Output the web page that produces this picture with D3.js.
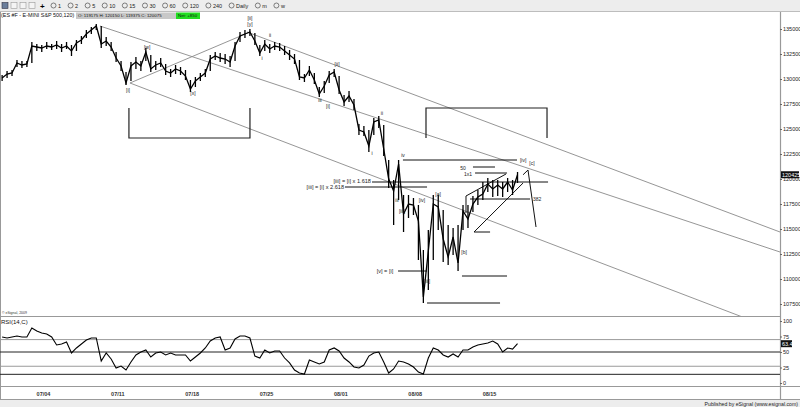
<!DOCTYPE html>
<html><head><meta charset="utf-8">
<script src="https://cdn.jsdelivr.net/npm/d3@7"></script>
<style>body{margin:0;background:#fff;overflow:hidden}svg{display:block;font-family:"Liberation Sans",Arial,sans-serif}</style>
</head><body><svg id="c" width="800" height="407"></svg>
<script>
// ---------------- DATA ----------------
const dateTicks = [0, 5, 10, 15, 20, 25, 30];            // trading days from 07/04
const dateLabels = ["07/04", "07/11", "07/18", "07/25", "08/01", "08/08", "08/15"];
const priceTicks = [107500, 110000, 112500, 115000, 117500, 120000, 122500, 125000, 127500, 130000, 132500, 135000];
const rsiTicks = [0, 25, 50, 75, 100];
const rsiLevels = [70, 50, 27, 14];
const startT = -2.75, stepT = 1 / 3;                     // one sample every 1/3 trading day
const closes = [130100,130500,130600,131600,131400,131500,133300,133200,133100,133300,
  133200,133400,133100,133300,132800,133600,133900,134500,134900,135300,
  133500,133800,133200,132100,131300,129600,131300,131700,131300,132700,
  131000,131400,131600,130800,130600,131000,130800,130300,129000,129800,
  130200,130600,132000,132300,132100,132000,131700,133300,134300,134500,
  134700,133800,132600,133500,133000,133300,133200,132800,132400,132000,
  130200,130100,130900,129900,128500,129300,130400,130700,128900,127700,
  128300,127400,124900,124700,123300,125700,125900,123000,120000,118800,
  121500,116500,117500,117400,115800,108200,112800,117500,117200,114000,
  112200,114200,111600,116800,116000,117500,118200,118500,119500,119000,
  119400,119000,119700,118900,120425];
const highs = [130400,130800,130900,131900,131800,131800,133700,133500,133400,133700,
  133500,133800,133500,133700,133400,133900,134300,134900,135200,135500,
  135300,134200,133700,132700,131800,130700,131700,132200,131800,133100,
  132400,131800,132100,131500,131000,131400,131200,130900,129900,130200,
  130600,131000,132400,132700,132600,132500,132300,133700,134700,134900,
  135000,134600,133400,133900,133500,133700,133600,133300,132900,132500,
  131900,130500,131300,130600,129200,129800,130800,131000,130300,128400,
  128800,128000,125500,125300,124900,126100,126300,125400,121900,119900,
  121900,118400,118400,118100,117400,112900,114900,118400,118400,116900,
  115400,115100,115400,117400,117400,118300,118900,119700,120100,119900,
  119900,119700,120100,119900,120700];
const lows = [129800,130100,130300,131200,131100,131200,131600,132800,132700,133000,
  132900,133000,132700,133000,132300,132800,133500,134100,134500,134900,
  133100,133300,132800,131700,130800,129400,129800,131000,130800,131800,
  130700,130900,131200,130400,130200,130500,130400,129900,128700,129200,
  129800,130200,130800,131900,131700,131500,131200,131800,133700,134100,
  134300,133400,132300,132800,132600,132900,132800,132400,131900,131500,
  129900,129700,130300,129500,128200,128600,129600,130200,128500,127300,
  127700,126900,124400,124300,122700,124400,125100,122300,119100,115400,
  117900,114700,116100,116400,111900,107600,108900,111900,114900,111700,
  111400,112400,110800,114900,115100,116700,117400,117900,118700,118200,
  118300,118200,118700,118400,119600];
const rsi = [74.2,72.6,74.2,75.8,74.2,74.2,88.7,83.9,80.6,79.0,
  74.2,61.3,62.9,66.1,48.4,56.5,62.9,69.4,72.6,72.6,
  35.5,48.4,38.7,24.2,27.4,21.0,33.9,45.2,50.0,53.2,
  41.9,48.4,50.0,45.2,48.4,45.2,45.2,45.2,35.5,41.9,
  48.4,56.5,67.7,72.6,74.2,53.2,56.5,71.0,75.8,75.8,
  72.6,43.5,40.3,53.2,48.4,51.6,51.6,40.3,32.3,21.0,
  16.1,14.5,37.1,33.9,30.6,33.9,53.2,56.5,51.6,40.3,
  33.9,25.8,24.2,29.0,43.5,48.4,50.0,33.9,16.1,22.6,
  35.5,33.9,30.6,25.8,17.7,14.5,40.3,56.5,53.2,45.2,
  41.9,46.8,41.9,53.2,53.2,58.1,61.3,62.9,64.5,67.7,
  62.9,50.0,56.5,54.8,63.4];
// annotation geometry in (trading day, price)
const channelLines = [
  [[3.83, 135300], [49.57, 112700]],
  [[13.72, 134700], [49.57, 114700]],
  [[5.85, 129600], [47.22, 106100]],
  [[5.85, 129600], [13.92, 134700]]
];
const brackets = [  // t1, t2, open-end price, bar price
  [5.78, 13.92, 127100, 124100],
  [25.76, 33.90, 124100, 127100]
];
const levelLines = [ // t1, t2, price
  [20.31, 25.83, 119200], [22.13, 33.97, 119700], [24.21, 31.88, 121900],
  [28.92, 30.40, 121200], [29.06, 31.21, 120600], [28.72, 32.76, 118000],
  [28.18, 31.21, 110300], [25.83, 30.74, 107600], [23.88, 25.83, 110800]
];
const wedgeLines = [
  [[28.45, 118300], [31.14, 120500]],
  [[28.45, 118300], [28.45, 116600]],
  [[28.99, 114700], [32.29, 119600]],
  [[28.99, 114700], [30.07, 114700]],
  [[32.29, 120425], [32.62, 120900], [33.16, 115200]]
];
const waveLabels = [ // t, price, text, anchor
  [13.92, 136100, "[ii]", "middle"], [13.92, 135500, "[y]", "middle"],
  [7.00, 133200, "[w]", "middle"], [5.72, 128900, "[i]", "middle"],
  [10.09, 128600, "[x]", "middle"], [14.73, 132100, "i", "middle"],
  [15.27, 134400, "ii", "middle"], [18.63, 127900, "iii", "middle"],
  [19.17, 127300, "[i]", "middle"], [19.78, 131500, "[ii]", "middle"],
  [22.13, 122600, "i", "middle"], [22.80, 126600, "ii", "middle"],
  [24.21, 122400, "iv", "middle"], [23.81, 117900, "iii", "middle"],
  [24.15, 116800, "[iii]", "middle"], [25.49, 117900, "[iv]", "middle"],
  [26.57, 118500, "[a]", "middle"], [28.32, 112700, "[b]", "middle"],
  [25.83, 109800, "[iii]", "middle"], [32.29, 121900, "[iv]", "middle"],
  [32.89, 121600, "[c]", "middle"], [28.25, 121100, "50", "middle"],
  [28.59, 120500, "1x1", "middle"], [33.23, 118000, "382", "middle"],
  [23.0, 110800, "[v] = [i]", "middle"],
  [22.06, 119850, "[iii] = [i] x 1.618", "end"],
  [20.25, 119250, "[iii] = [i] x 2.618", "end"]
];
const toolbarItems = ["1", "2", "5", "10", "15", "30", "60", "120", "240", "Daily", "m", "w"];

// ---------------- DRAW ----------------
const svg = d3.select("#c");
const W = 800, AX = 780;
const x = d3.scaleLinear().domain([-2.892, 49.57]).range([0, AX]);
const y = d3.scaleLinear().domain([107500, 135000]).range([304, 29]);
const yR = d3.scaleLinear().domain([0, 100]).range([383, 321]);

// toolbar
svg.append("rect").attr("x", 0).attr("y", 0).attr("width", W).attr("height", 11).attr("fill", "#ededed");
svg.append("line").attr("x1", 0).attr("x2", W).attr("y1", 11.5).attr("y2", 11.5).attr("stroke", "#bdbdbd");
const icons = svg.append("g");
[2, 11, 20, 29].forEach((ix, k) => {
  icons.append("rect").attr("x", ix).attr("y", 2.5).attr("width", 6).attr("height", 6)
    .attr("fill", k === 0 ? "#6a7d9a" : "#f4f4f4").attr("stroke", k === 0 ? "#334" : "#999").attr("stroke-width", 0.6);
});
icons.append("text").attr("x", 40).attr("y", 9).attr("font-size", 8).attr("font-weight", "bold").text("+");
let tx = 51;
toolbarItems.forEach(s => {
  svg.append("circle").attr("cx", tx + 2.5).attr("cy", 5.5).attr("r", 2.5).attr("fill", "none").attr("stroke", "#333").attr("stroke-width", 0.6);
  const t = svg.append("text").attr("x", tx + 7).attr("y", 8).attr("font-size", 5.5).attr("fill", "#222").text(s);
  tx += 7 + t.node().getComputedTextLength() + 7;
});

// header
svg.append("text").attr("x", 1).attr("y", 17).attr("font-size", 5.4).attr("fill", "#111").text("(ES #F - E-MINI S&P 500,120)");
svg.append("rect").attr("x", 76).attr("y", 12.5).attr("width", 100).attr("height", 6.5).attr("fill", "#c8c8c8");
svg.append("text").attr("x", 78).attr("y", 17.3).attr("font-size", 4.4).attr("fill", "#111")
  .text("O: 119175   H: 120150   L: 119375   C: 120075");
svg.append("rect").attr("x", 176).attr("y", 12.5).attr("width", 24).attr("height", 6.5).attr("fill", "#22dd22");
svg.append("text").attr("x", 178).attr("y", 17.3).attr("font-size", 4.4).attr("fill", "#111").text("Net: +850");

// frame lines
svg.append("line").attr("x1", 0.5).attr("x2", 0.5).attr("y1", 12).attr("y2", 400).attr("stroke", "#999");
svg.append("line").attr("x1", AX + 0.5).attr("x2", AX + 0.5).attr("y1", 12).attr("y2", 400).attr("stroke", "#999").attr("stroke-width", 1.2);
svg.append("line").attr("x1", 0).attr("x2", AX).attr("y1", 316.5).attr("y2", 316.5).attr("stroke", "#999");
svg.append("line").attr("x1", 0).attr("x2", W).attr("y1", 386.5).attr("y2", 386.5).attr("stroke", "#999");
svg.append("line").attr("x1", 0).attr("x2", W).attr("y1", 399.5).attr("y2", 399.5).attr("stroke", "#999");

// clip for price panel
svg.append("clipPath").attr("id", "pc").append("rect").attr("x", 1).attr("y", 12).attr("width", AX - 1).attr("height", 304);
const P = svg.append("g").attr("clip-path", "url(#pc)");
const lineGen = d3.line().x(d => x(d[0])).y(d => y(d[1]));

channelLines.forEach(l => P.append("path").attr("d", lineGen(l)).attr("fill", "none").attr("stroke", "#8a8a8a").attr("stroke-width", 0.9));
brackets.forEach(b => {
  P.append("path").attr("d", lineGen([[b[0], b[2]], [b[0], b[3]], [b[1], b[3]], [b[1], b[2]]]))
    .attr("fill", "none").attr("stroke", "#222").attr("stroke-width", 1.2);
});
levelLines.forEach(l => P.append("path").attr("d", lineGen([[l[0], l[2]], [l[1], l[2]]])).attr("fill", "none").attr("stroke", "#111").attr("stroke-width", 1));
wedgeLines.forEach(l => P.append("path").attr("d", lineGen(l)).attr("fill", "none").attr("stroke", "#111").attr("stroke-width", 1));

// price bars (high-low) + close line
const T = i => startT + i * stepT;
P.selectAll("line.bar").data(closes).join("line").attr("class", "bar")
  .attr("x1", (d, i) => x(T(i))).attr("x2", (d, i) => x(T(i)))
  .attr("y1", (d, i) => y(highs[i])).attr("y2", (d, i) => y(lows[i]))
  .attr("stroke", "#000").attr("stroke-width", 1.3);
const priceData = closes.map((v, i) => [T(i), v]);
P.append("path").attr("d", lineGen(priceData)).attr("fill", "none").attr("stroke", "#000").attr("stroke-width", 1.3);

waveLabels.forEach(l => {
  P.append("text").attr("x", x(l[0])).attr("y", y(l[1]) + 2).attr("text-anchor", l[3])
    .attr("font-size", l[2].length > 8 ? 5.6 : 5).attr("fill", "#222").text(l[2]);
});

// price axis
const ax = svg.append("g").attr("transform", `translate(${AX},0)`)
  .call(d3.axisRight(y).tickValues(priceTicks).tickSize(2).tickPadding(1).tickFormat(d3.format("d")));
ax.select(".domain").remove();
ax.selectAll("text").attr("font-size", 5.5).attr("fill", "#222").attr("font-family", "Liberation Sans, Arial, sans-serif");
ax.selectAll("line").attr("stroke", "#666");
const last = closes[closes.length - 1];
svg.append("rect").attr("x", AX + 1).attr("y", y(last) - 3.5).attr("width", 18).attr("height", 7).attr("fill", "#111");
svg.append("text").attr("x", AX + 2).attr("y", y(last) + 2).attr("font-size", 5.5).attr("fill", "#fff").text(d3.format("d")(last));

// RSI panel
svg.append("text").attr("x", 2).attr("y", 314).attr("font-size", 3.5).attr("fill", "#333").text("© eSignal, 2009");
svg.append("text").attr("x", 1).attr("y", 324).attr("font-size", 6).attr("fill", "#111").text("RSI(14,C)");
rsiLevels.forEach((lv, k) => {
  svg.append("line").attr("x1", 0).attr("x2", AX).attr("y1", yR(lv)).attr("y2", yR(lv))
    .attr("stroke", k % 2 === 0 ? "#9a9a9a" : "#222").attr("stroke-width", 1);
});
const rsiLine = d3.line().x((d, i) => x(T(i))).y(d => yR(d));
svg.append("path").attr("d", rsiLine(rsi)).attr("fill", "none").attr("stroke", "#000").attr("stroke-width", 1.1);
const rax = svg.append("g").attr("transform", `translate(${AX},0)`)
  .call(d3.axisRight(yR).tickValues(rsiTicks).tickSize(2).tickPadding(1).tickFormat(d3.format("d")));
rax.select(".domain").remove();
rax.selectAll("text").attr("font-size", 5.5).attr("fill", "#222").attr("font-family", "Liberation Sans, Arial, sans-serif");
rax.selectAll("line").attr("stroke", "#666");
const lastR = rsi[rsi.length - 1];
svg.append("rect").attr("x", AX + 1).attr("y", yR(lastR) - 3.5).attr("width", 11).attr("height", 7).attr("fill", "#111");
svg.append("text").attr("x", AX + 2).attr("y", yR(lastR) + 2).attr("font-size", 5.5).attr("fill", "#fff").text(d3.format(".1f")(lastR));

// date axis
const dax = svg.append("g").attr("transform", "translate(0,386)")
  .call(d3.axisBottom(x).tickValues(dateTicks).tickSize(0).tickPadding(6).tickFormat((d, i) => dateLabels[i]));
dax.select(".domain").remove();
dax.selectAll("text").attr("font-size", 5.5).attr("font-weight", "bold").attr("fill", "#333").attr("font-family", "Liberation Sans, Arial, sans-serif");

// footer
svg.append("rect").attr("x", 0).attr("y", 400).attr("width", W).attr("height", 7).attr("fill", "#ededed");
svg.append("text").attr("x", 798).attr("y", 406).attr("text-anchor", "end").attr("font-size", 5.2).attr("fill", "#222")
  .text("Published by eSignal (www.esignal.com)");
</script></body></html>
